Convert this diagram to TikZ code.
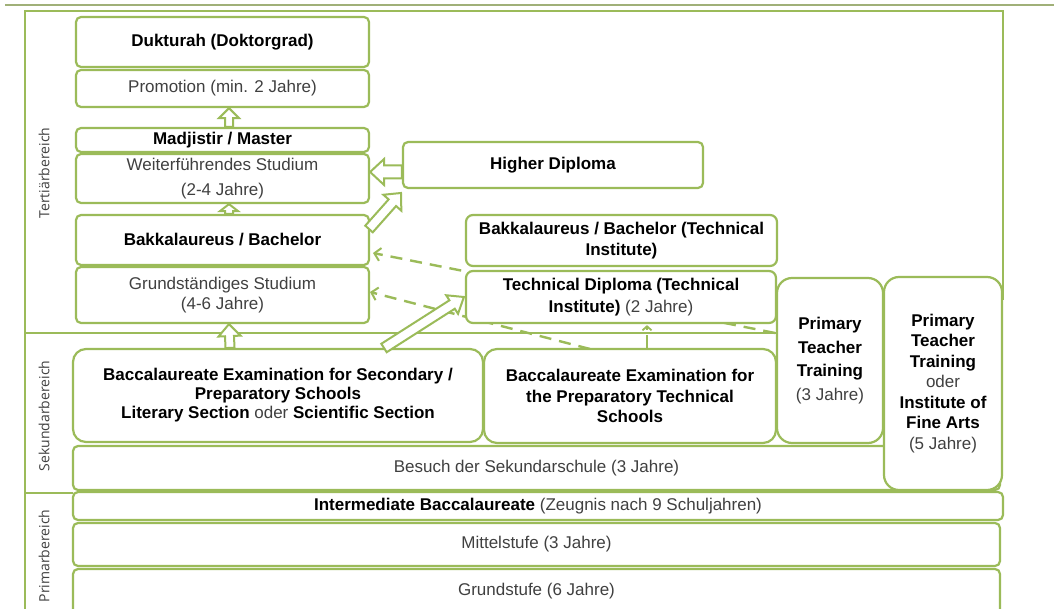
\documentclass[tikz,border=0pt]{standalone}
\usepackage{fontspec}
\setmainfont{Liberation Sans}
\newfontfamily\labfont{Open Sans}
\usetikzlibrary{arrows.meta,calc}
\definecolor{grn}{RGB}{155,187,89}
\definecolor{topcol}{RGB}{160,176,120}
\definecolor{txtgrey}{RGB}{64,64,64}
\newcommand{\B}[1]{\textbf{\color{black}#1}}
% hollow block arrow: start, tip, shaft half width, head half width, head length
\newcommand{\hollowarrow}[5]{%
  \coordinate (ha-h) at ($(#2)!#5!(#1)$);
  \draw[harrow] ($(#1)!#3!90:(#2)$) -- ($(ha-h)!#3!-90:(#1)$) -- ($(ha-h)!#4!-90:(#1)$)
    -- (#2) -- ($(ha-h)!#4!90:(#1)$) -- ($(ha-h)!#3!90:(#1)$) -- ($(#1)!#3!-90:(#2)$) -- cycle;
}
% box from corners: name, x1, y1, x2, y2, options, text
\newcommand{\mybox}[7]{%
  \node[box, minimum width={(#4)-(#2)}, minimum height={(#5)-(#3)}, #6] (#1)
    at ({((#2)+(#4))/2},{((#3)+(#5))/2}) {#7};
}
\begin{document}
\begin{tikzpicture}[x=1pt,y=-1pt,
  box/.style={draw=grn, line width=2.2pt, fill=white, rounded corners=5pt,
    inner sep=0pt, align=center, text=txtgrey,
    font=\fontsize{17}{20.5}\selectfont},
  frame/.style={draw=grn, line width=2.2pt},
  harrow/.style={draw=grn, line width=2pt, fill=white, line join=miter},
  dasharrow/.style={draw=grn, line width=2.4pt, dash pattern=on 12pt off 8pt,
    -{Straight Barb[length=6pt,width=13pt,line width=2pt]}},
  lab/.style={font=\labfont\fontsize{14}{16}\selectfont, text=txtgrey, rotate=90, inner sep=0pt}
]
\useasboundingbox (0,0) rectangle (1054,609);
\fill[white] (0,0) rectangle (1054,609);

% top rule and frames
\draw[draw=topcol, line width=2.2pt] (5,5) -- (1054,5);
\draw[frame] (777,333) -- (25,333) -- (25,11) -- (1003,11) -- (1003,300);
\draw[frame] (25,333) -- (25,615);
\draw[frame] (25,493) -- (73,493);

% section labels
\node[lab] (tlab) at (44,173) {Tertiärbereich};
\node[lab] (slab) at (44,416) {Sekundarbereich};
\node[lab] (plab) at (44,556) {Primarbereich};

% dashed connectors (drawn behind the boxes)
\coordinate (d1s) at (775,333);
\coordinate (d1e) at (373,253);
\draw[dasharrow] (d1s) -- (d1e);
\coordinate (d2s) at (590,349);
\coordinate (d2e) at (370,292);
\draw[dasharrow] (d2s) -- (d2e);

% tertiary boxes
\mybox{dukt}{76}{17}{369}{67}{}{\B{Dukturah (Doktorgrad)}}
\mybox{promo}{76}{70}{369}{107}{}{Promotion (min. 2 Jahre)}
\mybox{master}{76}{128}{369}{152}{}{\B{Madjistir / Master}}
\mybox{weiter}{76}{154}{369}{203}{}{Weiterführendes Studium\\[4pt](2-4 Jahre)}
\mybox{bach}{76}{215}{369}{265}{}{\B{Bakkalaureus / Bachelor}}
\mybox{grund}{76}{267}{369}{323}{}{Grundständiges Studium\\(4-6 Jahre)}
\mybox{higher}{403}{142}{703}{188}{}{\B{Higher Diploma}}
\mybox{techbach}{466}{215}{777}{266}{rounded corners=7pt}{\B{Bakkalaureus / Bachelor (Technical}\\\B{Institute)}}
\mybox{techdip}{466}{271}{776}{323}{rounded corners=7pt}{\B{Technical Diploma (Technical}\\[2pt]\B{Institute)} (2 Jahre)}

% secondary boxes
\mybox{besuch}{73}{446}{1000}{490}{}{Besuch der Sekundarschule (3 Jahre)}
\mybox{baccsec}{73}{349}{483}{442}{rounded corners=13pt}{\B{Baccalaureate Examination for Secondary /}\\[-1.5pt]\B{Preparatory Schools}\\[-1.5pt]\B{Literary Section} oder \B{Scientific Section}}
\mybox{baccprep}{484}{349}{776}{443}{rounded corners=13pt}{\B{Baccalaureate Examination for}\\\B{the Preparatory Technical}\\\B{Schools}}
\mybox{ptt}{777}{278}{883}{443}{rounded corners=15pt}{\B{Primary}\\[3pt]\B{Teacher}\\[3pt]\B{Training}\\[3pt](3 Jahre)}
\mybox{fine}{884}{277}{1002}{490}{rounded corners=15pt}{\B{Primary}\\\B{Teacher}\\\B{Training}\\oder\\\B{Institute of}\\\B{Fine Arts}\\(5 Jahre)}

% primary boxes
\mybox{inter}{73}{492}{1003}{520}{}{\B{Intermediate Baccalaureate} (Zeugnis nach 9 Schuljahren)}
\mybox{mittel}{73}{523}{1000}{566}{}{Mittelstufe (3 Jahre)}
\mybox{grundst}{73}{569}{1000}{614}{}{Grundstufe (6 Jahre)}

% small dashed arrow from preparatory technical to technical diploma
\coordinate (d3s) at ($(baccprep.north)+(17,0)$);
\coordinate (d3e) at ($(techdip.south)+(26,1)$);
\draw[dasharrow, dash pattern=on 13pt off 5pt, -{Straight Barb[length=4pt,width=9pt,line width=1.8pt]}] (d3s) -- (d3e);

% hollow block arrows
\coordinate (a1s) at ($(master.north)+(6.5,0)$);
\coordinate (a1e) at ($(promo.south)+(6.5,0)$);
\hollowarrow{a1s}{a1e}{4pt}{10pt}{10pt}
\coordinate (a2s) at ($(bach.north)+(6.5,0)$);
\coordinate (a2e) at ($(weiter.south)+(6.5,0)$);
\hollowarrow{a2s}{a2e}{4pt}{9pt}{7pt}
\coordinate (a3s) at ($(baccsec.north)+(-48,0)$);
\coordinate (a3e) at ($(grund.south)+(6.5,0)$);
\hollowarrow{a3s}{a3e}{4.5pt}{11pt}{12pt}
\coordinate (a4s) at ($(higher.west)+(0,7)$);
\coordinate (a4e) at ($(weiter.east)+(0,-6.5)$);
\hollowarrow{a4s}{a4e}{6.5pt}{13pt}{14pt}
\coordinate (a5s) at (369,229);
\coordinate (a5e) at (401,193);
\hollowarrow{a5s}{a5e}{5pt}{12pt}{13pt}
\coordinate (a6s) at (384,348);
\coordinate (a6e) at ($(techdip.west)+(-1,0)$);
\hollowarrow{a6s}{a6e}{5pt}{11pt}{14pt}
\end{tikzpicture}
\end{document}
